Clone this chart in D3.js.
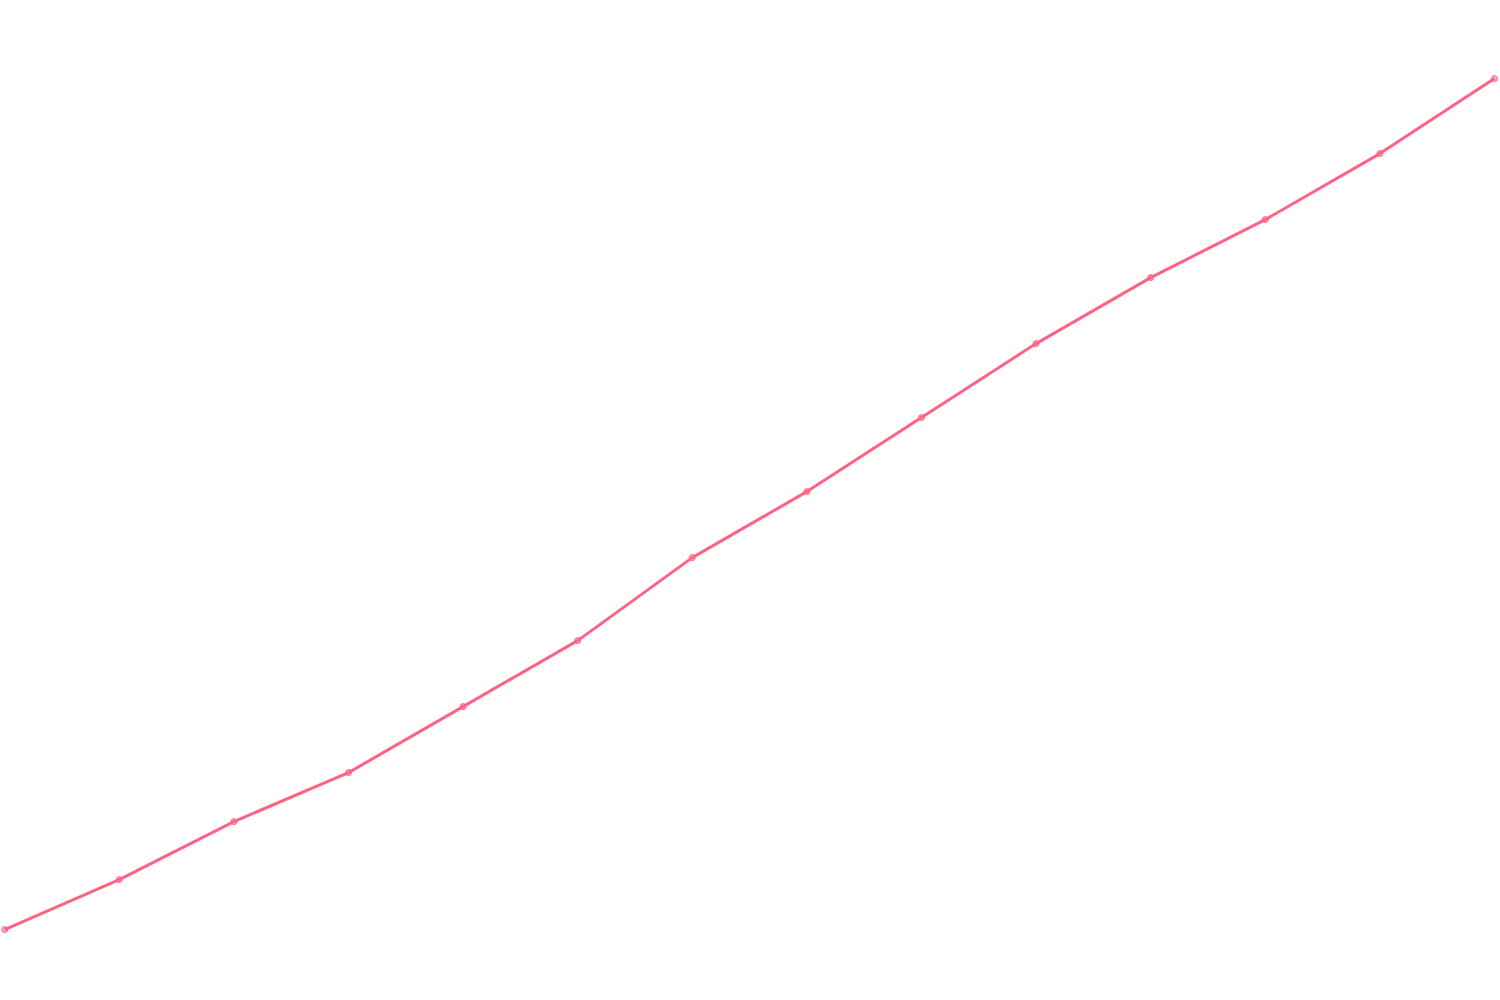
<!DOCTYPE html>
<html>
<head>
<meta charset="utf-8">
<script src="https://cdn.jsdelivr.net/npm/d3@7"></script>
<style>
  html, body { margin: 0; padding: 0; background: #fff; }
  svg { display: block; }
</style>
</head>
<body>
<div id="scene"></div>
<script>
var ctx = {
  w: 1500,
  h: 1000
};

// categories along x (no labels drawn in the reference)
var categories = ["1", "2", "3", "4", "5", "6", "7", "8", "9", "10", "11", "12", "13", "14"];
// series values
var values = [10, 15, 20.8, 25.7, 32.3, 38.9, 47.2, 53.8, 61.2, 68.6, 75.2, 81, 87.6, 95.1];

var lineColor = "rgb(255, 99, 132)";
var pointFill = "rgba(255, 99, 132, 0.5)";

var svgEl = d3.select("#scene").append("svg")
  .attr("width", ctx.w)
  .attr("height", ctx.h);

var x = d3.scalePoint()
  .domain(categories)
  .range([4.7, 1494.5]);

var y = d3.scaleLinear()
  .domain([0, 100])
  .range([1029.6, 29.6]);

var line = d3.line()
  .x(function(d, i) { return x(categories[i]); })
  .y(function(d) { return y(d); });

svgEl.append("path")
  .datum(values)
  .attr("fill", "none")
  .attr("stroke", lineColor)
  .attr("stroke-width", 3)
  .attr("stroke-linejoin", "round")
  .attr("d", line);

svgEl.selectAll("circle.pt")
  .data(values)
  .enter()
  .append("circle")
  .attr("class", "pt")
  .attr("cx", function(d, i) { return x(categories[i]); })
  .attr("cy", function(d) { return y(d); })
  .attr("r", 3)
  .style("fill", pointFill)
  .style("stroke", lineColor)
  .style("stroke-width", 1);
</script>
</body>
</html>
